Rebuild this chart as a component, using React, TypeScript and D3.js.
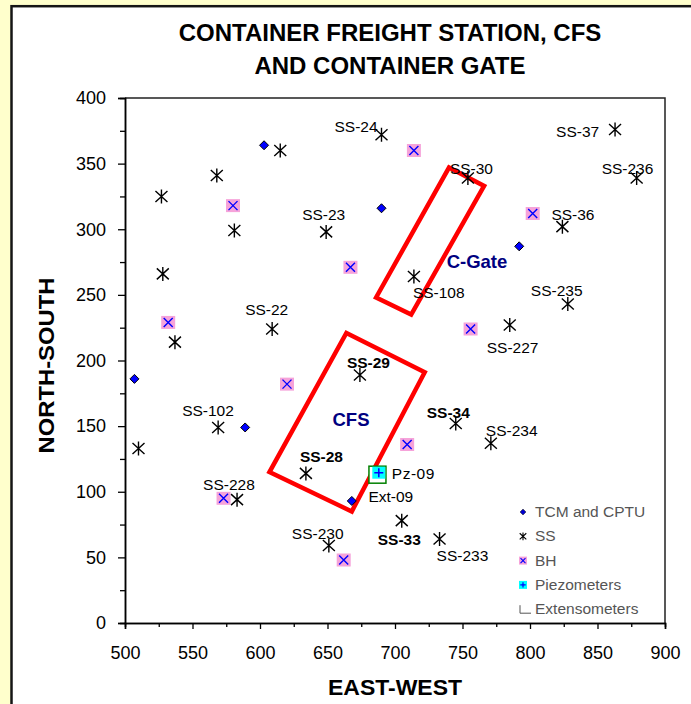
import React, { useRef, useEffect } from "react";
import * as d3 from "d3";

const W = 691;
const H = 704;

const titleLines = ["CONTAINER FREIGHT STATION, CFS", "AND CONTAINER GATE"];
const xTicks = [500, 550, 600, 650, 700, 750, 800, 850, 900];
const yTicks = [0, 50, 100, 150, 200, 250, 300, 350, 400];

// TCM and CPTU
const tcmPoints: [number, number][] = [
  [603, 364], [690, 316], [792, 287], [507, 186], [589, 149], [668, 93],
];

// SS points ("" = no label)
const ssNames = [
  "SS-24", "", "", "", "", "SS-23", "", "SS-30", "SS-37", "SS-236", "SS-36", "SS-108", "SS-235",
  "SS-227", "", "SS-22", "SS-29", "SS-102", "", "SS-28", "SS-228", "SS-34", "SS-234", "SS-33",
  "SS-233", "SS-230",
];
const ssX = [690, 615, 568, 527, 581, 649, 528, 754, 863, 879, 824, 714, 828, 785, 537, 609, 674, 569, 510, 634, 583, 745, 771, 705, 733, 651];
const ssY = [372, 360, 341, 325, 299, 298, 266, 339, 376, 339, 302, 264, 243, 227, 214, 224, 189, 149, 133, 114, 94, 152, 137, 78, 64, 59];

// BH
const bhPoints: [number, number][] = [
  [580, 318], [667, 271], [714, 360], [802, 312], [756, 224], [532, 229], [620, 182], [573, 95], [709, 136], [662, 48],
];

const piezoPoints: [number, number][] = [[688, 114.5]];
const extPoints: [number, number][] = [[687, 113]];

// zones
const cfsZone: [number, number][] = [[664, 221], [722, 191], [668, 85], [607, 115]];
const cGateZone: [number, number][] = [[740, 347], [766, 333], [712, 235], [686, 248]];

const legendItems = ["TCM and CPTU", "SS", "BH", "Piezometers", "Extensometers"];

// label placement (px offset from point)
const ssLabelOffsets: Record<string, [number, number]> = {
  "SS-24": [-47, -3], "SS-23": [-24, -12], "SS-30": [-18, -4], "SS-37": [-59, 7],
  "SS-236": [-35, -4], "SS-36": [-11, -7], "SS-108": [-1, 21], "SS-235": [-37, -8],
  "SS-227": [-23, 28], "SS-22": [-27, -14], "SS-29": [-13, -7], "SS-102": [-36, -11],
  "SS-28": [-6, -11], "SS-228": [-34, -10], "SS-34": [-29, -6], "SS-234": [-5, -7],
  "SS-33": [-24, 24], "SS-233": [-3, 22], "SS-230": [-37, -7],
};
const boldLabels = ["SS-29", "SS-28", "SS-34", "SS-33"];

const FONT = "'Liberation Sans', Arial, sans-serif";

const starPath = "M-6,-5.5L6,5.5M-6,5.5L6,-5.5M0,-7L0,7";
const xPath = "M-4.5,-4.5L4.5,4.5M-4.5,4.5L4.5,-4.5";
const plusPath = "M-4.5,0L4.5,0M0,-4.5L0,4.5";

const App: React.FC = () => {
  const svgRef = useRef<SVGSVGElement | null>(null);

  useEffect(() => {
    if (!svgRef.current) return;
    const svg = d3.select(svgRef.current);
    svg.selectAll("*").remove();

    const x = d3.scaleLinear().domain([500, 900]).range([125, 665]);
    const y = d3.scaleLinear().domain([0, 400]).range([623, 98]);

    // background + frame
    svg.append("rect").attr("width", W).attr("height", H).attr("fill", "#FFFFCC");
    svg.append("rect").attr("x", 11.5).attr("y", 6.2).attr("width", W).attr("height", H)
      .attr("fill", "#fff").attr("stroke", "#151515").attr("stroke-width", 2.5);

    // title
    svg.append("g").selectAll("text").data(titleLines).join("text")
      .attr("x", 390).attr("y", (_, i) => 41 + i * 33)
      .attr("text-anchor", "middle").attr("font-family", FONT).attr("font-weight", "bold")
      .attr("font-size", 24).attr("fill", "#000").text((d) => d);

    // plot border (top / right)
    svg.append("path")
      .attr("d", `M${x(500)},${y(400)}H${x(900)}V${y(0)}`)
      .attr("fill", "none").attr("stroke", "#222").attr("stroke-width", 1.5);

    // axes
    const minorX = d3.range(525, 900, 50);
    const minorY = d3.range(25, 400, 50);

    const gx = svg.append("g").attr("transform", `translate(0,${y(0)})`);
    gx.call(d3.axisBottom(x).tickValues(xTicks).tickSize(6).tickPadding(17).tickFormat(d3.format("d")));
    const gxm = svg.append("g").attr("transform", `translate(0,${y(0)})`);
    gxm.call(d3.axisBottom(x).tickValues(minorX).tickSize(4).tickFormat(() => ""));
    const gy = svg.append("g").attr("transform", `translate(${x(500)},0)`);
    gy.call(d3.axisLeft(y).tickValues(yTicks).tickSize(7).tickPadding(12).tickFormat(d3.format("d")));
    const gym = svg.append("g").attr("transform", `translate(${x(500)},0)`);
    gym.call(d3.axisLeft(y).tickValues(minorY).tickSize(5).tickFormat(() => ""));

    [gx, gxm, gy, gym].forEach((g) => {
      g.select(".domain").attr("stroke", "#000").attr("stroke-width", 1.5);
      g.selectAll(".tick line").attr("stroke", "#000").attr("stroke-width", 1.3);
      g.selectAll(".tick text").attr("font-family", FONT).attr("font-size", 18).attr("fill", "#000");
    });

    // axis titles
    svg.append("text").attr("x", 395).attr("y", 695).attr("text-anchor", "middle")
      .attr("font-family", FONT).attr("font-weight", "bold").attr("font-size", 22)
      .attr("textLength", 134).attr("lengthAdjust", "spacingAndGlyphs").text("EAST-WEST");
    svg.append("text").attr("transform", `translate(54,${y(200) + 5}) rotate(-90)`).attr("text-anchor", "middle")
      .attr("font-family", FONT).attr("font-weight", "bold").attr("font-size", 22)
      .attr("textLength", 176).attr("lengthAdjust", "spacingAndGlyphs").text("NORTH-SOUTH");

    // zones
    const zoneLine = d3.line<[number, number]>().x((d) => x(d[0])).y((d) => y(d[1])).curve(d3.curveLinearClosed);
    svg.append("g").selectAll("path").data([cfsZone, cGateZone]).join("path")
      .attr("d", (d) => zoneLine(d) || "")
      .attr("fill", "none").attr("stroke", "#FF0000").attr("stroke-width", 4.5).attr("stroke-linejoin", "miter");

    svg.append("text").attr("x", 477).attr("y", 268).attr("text-anchor", "middle")
      .attr("font-family", FONT).attr("font-weight", "bold").attr("font-size", 18.5).attr("fill", "#000080").text("C-Gate");
    svg.append("text").attr("x", 351).attr("y", 426).attr("text-anchor", "middle")
      .attr("font-family", FONT).attr("font-weight", "bold").attr("font-size", 18.5).attr("fill", "#000080").text("CFS");

    // BH
    const bh = svg.append("g").selectAll("g").data(bhPoints).join("g")
      .attr("transform", (d) => `translate(${x(d[0])},${y(d[1])})`);
    bh.append("rect").attr("x", -7).attr("y", -6.5).attr("width", 14).attr("height", 13).attr("fill", "#F6A3DA");
    bh.append("path").attr("d", xPath).attr("stroke", "#0000FF").attr("stroke-width", 1.4);

    // SS
    const ssData = ssNames.map((n, i) => ({ name: n, x: ssX[i], y: ssY[i] }));
    svg.append("g").selectAll("path").data(ssData).join("path")
      .attr("transform", (d) => `translate(${x(d.x)},${y(d.y)})`)
      .attr("d", starPath).attr("stroke", "#000").attr("stroke-width", 1.4).attr("fill", "none");

    svg.append("g").selectAll("text").data(ssData.filter((d) => d.name)).join("text")
      .attr("x", (d) => x(d.x) + ssLabelOffsets[d.name][0])
      .attr("y", (d) => y(d.y) + ssLabelOffsets[d.name][1])
      .attr("font-family", FONT).attr("font-size", 15.5)
      .attr("font-weight", (d) => (boldLabels.includes(d.name) ? "bold" : "normal"))
      .attr("fill", "#000").text((d) => d.name);

    // TCM
    svg.append("g").selectAll("path").data(tcmPoints).join("path")
      .attr("transform", (d) => `translate(${x(d[0])},${y(d[1])})`)
      .attr("d", "M0,-4.5L4.5,0L0,4.5L-4.5,0Z").attr("fill", "#0000FF").attr("stroke", "#000").attr("stroke-width", 1);

    // extensometer + piezometer
    svg.append("g").selectAll("rect").data(extPoints).join("rect")
      .attr("x", (d) => x(d[0]) - 8.5).attr("y", (d) => y(d[1]) - 8.5).attr("width", 17).attr("height", 17)
      .attr("fill", "#fff").attr("stroke", "#008000").attr("stroke-width", 1.5);
    const pz = svg.append("g").selectAll("g").data(piezoPoints).join("g")
      .attr("transform", (d) => `translate(${x(d[0])},${y(d[1])})`);
    pz.append("rect").attr("x", -6.5).attr("y", -6).attr("width", 13).attr("height", 12).attr("fill", "#00FFFF");
    pz.append("path").attr("d", plusPath).attr("stroke", "#0000FF").attr("stroke-width", 1.5);

    svg.append("text").attr("x", x(piezoPoints[0][0]) + 13).attr("y", y(piezoPoints[0][1]) + 6)
      .attr("font-family", FONT).attr("font-size", 15.5).attr("letter-spacing", 0.5).text("Pz-09");
    svg.append("text").attr("x", x(extPoints[0][0]) - 9).attr("y", y(extPoints[0][1]) + 27)
      .attr("font-family", FONT).attr("font-size", 15.5).text("Ext-09");

    // legend
    const lg = svg.append("g").attr("transform", "translate(500,499)");
    lg.append("rect").attr("width", 164).attr("height", 122).attr("fill", "#fff");
    const row = lg.selectAll("g").data(legendItems).join("g")
      .attr("transform", (_, i) => `translate(0,${13 + i * 24.3})`);
    row.append("text").attr("x", 35).attr("y", 5).attr("font-family", FONT).attr("font-size", 15.5)
      .attr("fill", "#555").text((d) => d);
    row.each(function (_, i) {
      const g = d3.select(this);
      if (i === 0) g.append("path").attr("d", "M23,-3L26,0L23,3L20,0Z").attr("fill", "#0000CC").attr("stroke", "#333").attr("stroke-width", 0.6);
      if (i === 1) g.append("path").attr("transform", "translate(23,0) scale(0.55)").attr("d", starPath).attr("stroke", "#000").attr("stroke-width", 2).attr("fill", "none");
      if (i === 2) {
        g.append("rect").attr("x", 19).attr("y", -4).attr("width", 8).attr("height", 8).attr("fill", "#F6A3DA");
        g.append("path").attr("transform", "translate(23,0) scale(0.55)").attr("d", xPath).attr("stroke", "#0000FF").attr("stroke-width", 2);
      }
      if (i === 3) {
        g.append("rect").attr("x", 19).attr("y", -4).attr("width", 8).attr("height", 8).attr("fill", "#00FFFF");
        g.append("path").attr("transform", "translate(23,0) scale(0.6)").attr("d", plusPath).attr("stroke", "#0000FF").attr("stroke-width", 2);
      }
      if (i === 4) g.append("path").attr("d", "M20,-4V4H31").attr("fill", "none").attr("stroke", "#555").attr("stroke-width", 1);
    });
  }, []);

  return (
    <>
      <style>{"body{margin:0}"}</style>
      <svg ref={svgRef} width={W} height={H} style={{ display: "block" }}></svg>
    </>
  );
};

export default App;
